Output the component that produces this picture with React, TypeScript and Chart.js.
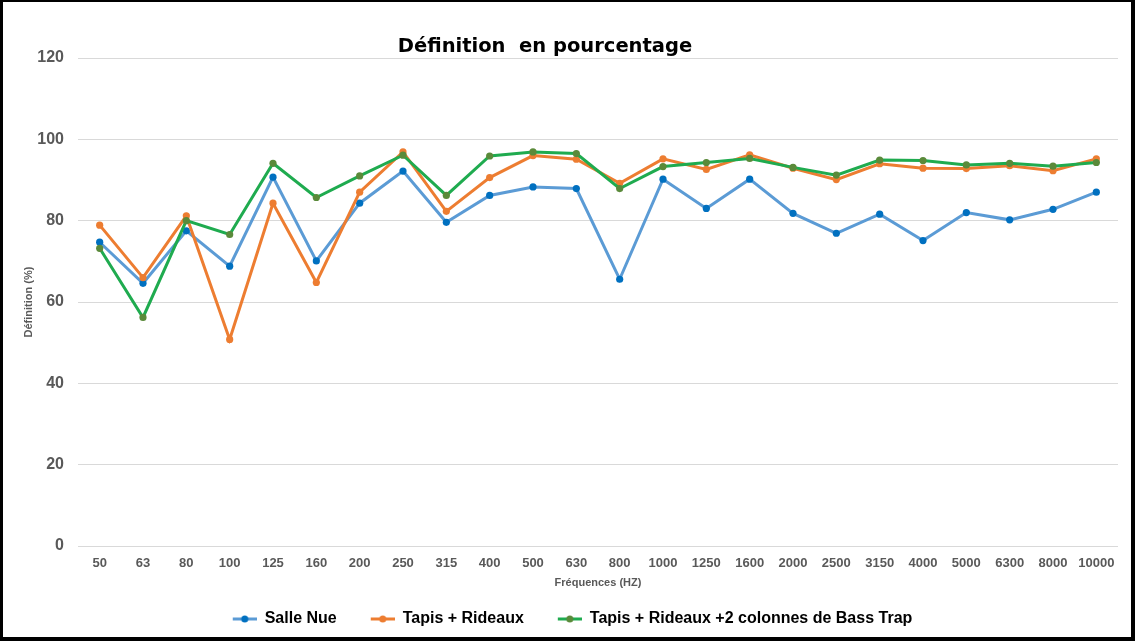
import React, { useEffect, useRef } from "react";
import { Chart, registerables } from "chart.js";

Chart.register(...registerables);

const chartTitle = "Définition  en pourcentage";
const xAxisTitle = "Fréquences (HZ)";
const yAxisTitle = "Définition (%)";

const frequencies = [
  "50", "63", "80", "100", "125", "160", "200", "250", "315", "400", "500", "630",
  "800", "1000", "1250", "1600", "2000", "2500", "3150", "4000", "5000", "6300", "8000", "10000",
];

const seriesNames = ["Salle Nue", "Tapis + Rideaux", "Tapis + Rideaux +2 colonnes de Bass Trap"];

const salleNue = [
  74.7, 64.6, 77.5, 68.8, 90.7, 70.1, 84.3, 92.2, 79.6, 86.2, 88.3, 87.9,
  65.6, 90.2, 83.0, 90.2, 81.8, 76.9, 81.6, 75.1, 82.0, 80.2, 82.8, 87.0,
];
const tapisRideaux = [
  78.9, 66.0, 81.2, 50.8, 84.3, 64.8, 87.0, 96.9, 82.3, 90.6, 96.0, 95.1,
  89.2, 95.2, 92.6, 96.2, 92.9, 90.1, 94.0, 92.9, 92.8, 93.5, 92.3, 95.2,
];
const bassTrap = [
  73.2, 56.2, 80.0, 76.6, 94.1, 85.7, 91.0, 96.1, 86.2, 95.9, 96.9, 96.5,
  87.9, 93.3, 94.3, 95.3, 93.1, 91.2, 94.9, 94.8, 93.7, 94.1, 93.4, 94.3,
];

const yMin = 0;
const yMax = 120;
const yStep = 20;

const lineColors = ["#5b9bd5", "#ed7d31", "#1fab4f"];
const pointColors = ["#0070c0", "#ed7d31", "#5a8a3a"];

const FONT = "'Liberation Sans', Arial, sans-serif";

function makeLegendMarker(line: string, dot: string): HTMLCanvasElement {
  const c = document.createElement("canvas");
  c.width = 48;
  c.height = 10;
  const ctx = c.getContext("2d")!;
  ctx.strokeStyle = line;
  ctx.lineWidth = 3;
  ctx.beginPath();
  ctx.moveTo(24, 5);
  ctx.lineTo(48, 5);
  ctx.stroke();
  ctx.fillStyle = dot;
  ctx.beginPath();
  ctx.arc(36, 5, 3.5, 0, Math.PI * 2);
  ctx.fill();
  return c;
}

const titlePlugin = {
  id: "customTitle",
  afterDraw(chart: any) {
    const ctx = chart.ctx;
    const area = chart.chartArea;
    ctx.save();
    ctx.font = "bold 19.5px 'DejaVu Sans', sans-serif";
    ctx.fillStyle = "#000";
    ctx.textAlign = "center";
    ctx.textBaseline = "alphabetic";
    ctx.fillText(chartTitle, area.left + (area.right - area.left) * 0.449, area.top - 6);
    ctx.restore();
  },
};

export default function App() {
  const ref = useRef<HTMLCanvasElement | null>(null);

  useEffect(() => {
    if (!ref.current) return;
    const values = [salleNue, tapisRideaux, bassTrap];
    const markers = lineColors.map((c, i) => makeLegendMarker(c, pointColors[i]));
    const chart = new Chart(ref.current, {
      type: "line",
      data: {
        labels: frequencies,
        datasets: values.map((v, i) => ({
          label: seriesNames[i],
          data: v,
          borderColor: lineColors[i],
          backgroundColor: pointColors[i],
          pointBackgroundColor: pointColors[i],
          pointBorderColor: pointColors[i],
          pointBorderWidth: 0,
          pointRadius: 3.6,
          borderWidth: 3,
          tension: 0,
          fill: false,
          order: 3 - i,
        })),
      },
      plugins: [titlePlugin],
      options: {
        animation: false,
        responsive: true,
        maintainAspectRatio: false,
        layout: { padding: { top: 56, right: 13, bottom: 0, left: 0 } },
        plugins: {
          title: { display: false },
          tooltip: { enabled: false },
          legend: {
            position: "bottom",
            labels: {
              usePointStyle: true,
              pointStyleWidth: 48,
              padding: 10,
              color: "#000",
              font: { family: FONT, size: 16, weight: "bold" },
              generateLabels: (ch: any) =>
                ch.data.datasets.map((ds: any, i: number) => ({
                  text: ds.label,
                  datasetIndex: i,
                  pointStyle: markers[i],
                  fillStyle: ds.borderColor,
                  strokeStyle: ds.borderColor,
                  lineWidth: 0,
                  hidden: false,
                  fontColor: "#000",
                })),
            },
          },
        },
        scales: {
          x: {
            type: "category",
            offset: true,
            grid: { display: false },
            border: { display: false },
            ticks: {
              color: "#595959",
              padding: 2,
              maxRotation: 0,
              autoSkip: false,
              font: { family: FONT, size: 13, weight: "bold" },
            },
            title: {
              display: true,
              text: xAxisTitle,
              color: "#595959",
              padding: { top: 0, bottom: 11.4 },
              font: { family: FONT, size: 11, weight: "bold" },
            },
            afterFit: (scale: any) => {
              scale.height = 55;
            },
          },
          y: {
            min: yMin,
            max: yMax,
            grid: { color: "#d9d9d9", lineWidth: 1, drawTicks: false },
            border: { display: false },
            ticks: {
              stepSize: yStep,
              color: "#595959",
              padding: 14,
              font: { family: FONT, size: 16, weight: "bold" },
            },
            title: {
              display: true,
              text: yAxisTitle,
              color: "#595959",
              padding: { top: 19.4, bottom: 0 },
              font: { family: FONT, size: 11, weight: "bold" },
            },
            afterFit: (scale: any) => {
              scale.width = 75;
            },
          },
        },
      },
    } as any);
    return () => chart.destroy();
  }, []);

  return (
    <div
      style={{
        position: "absolute",
        left: 0,
        top: 0,
        width: 1135,
        height: 641,
        boxSizing: "border-box",
        borderStyle: "solid",
        borderColor: "#000",
        borderWidth: "2px 4px 4px 3px",
        background: "#fff",
      }}
    >
      <div style={{ position: "relative", width: 1128, height: 635 }}>
        <canvas ref={ref} />
      </div>
    </div>
  );
}
